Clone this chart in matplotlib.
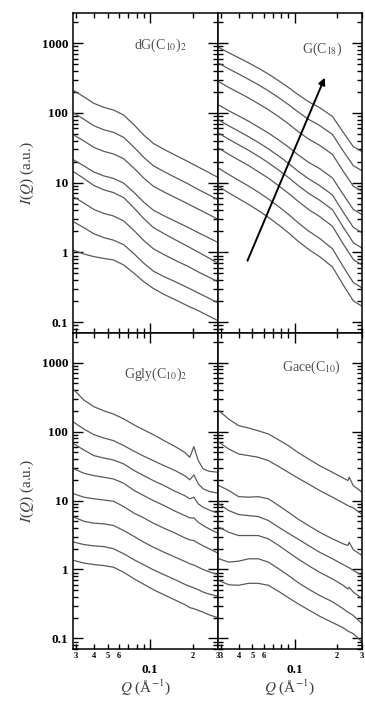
import matplotlib
matplotlib.use('Agg')
import matplotlib.pyplot as plt
from matplotlib.ticker import LogLocator, FixedLocator, FixedFormatter, NullFormatter

# -- Q grids (1/A)
q_top = [0.029, 0.034, 0.04, 0.047, 0.055, 0.065, 0.077, 0.09, 0.105, 0.125, 0.15, 0.185, 0.22, 0.26, 0.3]
q_gly = [0.029, 0.034, 0.04, 0.047, 0.055, 0.065, 0.077, 0.09, 0.105, 0.125, 0.15, 0.175, 0.19, 0.203,
         0.218, 0.236, 0.26, 0.3]
q_ace = [0.029, 0.034, 0.04, 0.047, 0.055, 0.065, 0.077, 0.09, 0.105, 0.125, 0.15, 0.185, 0.22, 0.238,
         0.243, 0.26, 0.3]

# -- dG(C10)2
dg1 = [207, 170, 137, 120, 110, 93, 67, 48, 36.5, 30, 24.8, 20, 16.6, 13.9, 11.9]
dg2 = [99, 81, 65.5, 57.3, 52.6, 44.5, 32, 23, 17.5, 14.4, 11.9, 9.6, 7.9, 6.65, 5.7]
dg3 = [48, 39.6, 32, 28.1, 25.8, 22, 16, 11.6, 8.9, 7.35, 6.12, 4.95, 4.13, 3.48, 2.99]
dg4 = [21, 17.4, 14.2, 12.5, 11.5, 9.8, 7.2, 5.25, 4.04, 3.35, 2.8, 2.28, 1.9, 1.61, 1.39]
dg5 = [14.2, 11.5, 9.1, 7.9, 7.2, 6.1, 4.3, 3.05, 2.28, 1.86, 1.52, 1.21, 1.0, 0.83, 0.70]
dg6 = [6.2, 5.1, 4.13, 3.62, 3.33, 2.82, 2.05, 1.48, 1.13, 0.93, 0.77, 0.63, 0.52, 0.44, 0.38]
dg7 = [2.72, 2.26, 1.85, 1.63, 1.50, 1.29, 0.95, 0.70, 0.54, 0.45, 0.38, 0.31, 0.26, 0.22, 0.19]
dg8 = [1.07, 0.95, 0.87, 0.82, 0.78, 0.66, 0.50, 0.38, 0.305, 0.25, 0.21, 0.17, 0.145, 0.122, 0.105]

# -- G(C18)
g1 = [867, 728, 617, 522, 439, 360, 288, 232, 184, 145, 119, 89, 53, 32.8, 27.7]
g2 = [512, 428, 361, 303, 254, 207, 165, 132, 104, 81, 66, 49, 28.6, 17.5, 14.8]
g3 = [279, 232, 195, 164, 136, 111, 88, 70, 54.5, 42.3, 34.3, 25.4, 14.7, 8.9, 7.5]
g4 = [129, 107.5, 90.4, 76, 63, 51.4, 40.8, 32.4, 25.3, 19.6, 15.9, 11.7, 6.83, 4.13, 3.48]
g5 = [78.9, 65.3, 54.6, 45.6, 37.8, 30.5, 24.0, 19.0, 14.7, 11.4, 9.1, 6.66, 3.81, 2.29, 1.91]
g6 = [50.8, 41.9, 34.9, 29.1, 24.0, 19.3, 15.1, 11.9, 9.2, 7.05, 5.6, 4.09, 2.32, 1.38, 1.15]
g7 = [31, 25.5, 21.1, 17.6, 14.4, 11.6, 9.0, 7.06, 5.45, 4.14, 3.27, 2.37, 1.33, 0.79, 0.66]
g8 = [16.0, 13.1, 10.8, 8.95, 7.33, 5.83, 4.52, 3.52, 2.69, 2.03, 1.59, 1.13, 0.63, 0.37, 0.31]
g9 = [8.73, 7.15, 5.9, 4.88, 4.0, 3.18, 2.47, 1.92, 1.46, 1.11, 0.87, 0.62, 0.344, 0.202, 0.169]

# -- Ggly(C10)2
gl1 = [402, 288, 230, 201, 180, 153, 125, 106, 90.6, 74.1, 60.7, 50.1, 42.5, 60.7, 38.0, 28.8, 26.6, 25.8]
gl2 = [136, 109, 90.6, 80.9, 74.1, 62.7, 51.9, 44.0, 38.0, 32.1, 27.2, 23.0, 20.0, 23.6, 17.5, 14.8, 13.6, 12.8]
gl3 = [66.2, 54.2, 44.9, 41.5, 38.8, 34.0, 27.2, 23.0, 19.5, 16.5, 13.6, 11.8, 10.6, 11.2, 8.95, 8.0, 7.3, 6.55]
gl4 = [28.8, 24.9, 23.0, 21.8, 20.6, 17.8, 14.0, 11.8, 10.0, 8.47, 7.0, 6.07, 5.61, 5.61, 4.85, 4.35, 3.88, 3.37]
gl5 = [12.5, 11.2, 10.6, 10.2, 9.77, 8.18, 6.55, 5.61, 4.70, 3.97, 3.37, 2.88, 2.69, 2.63, 2.41, 2.20, 2.0, 1.73]
gl6 = [5.73, 5.01, 4.70, 4.59, 4.35, 3.67, 3.01, 2.49, 2.11, 1.78, 1.51, 1.31, 1.21, 1.16, 1.08, 1.0, 0.925, 0.847]
gl7 = [2.49, 2.30, 2.20, 2.15, 2.0, 1.69, 1.38, 1.17, 0.99, 0.84, 0.71, 0.61, 0.57, 0.54, 0.51, 0.47, 0.44, 0.41]
gl8 = [1.35, 1.24, 1.18, 1.14, 1.08, 0.91, 0.73, 0.61, 0.51, 0.43, 0.36, 0.31, 0.28, 0.27, 0.255, 0.24, 0.22, 0.20]

# -- Gace(C10)
ga1 = [201, 152, 122, 113, 103, 92.5, 75.7, 62.7, 50.1, 40.2, 32.1, 25.7, 21.3, 19.5, 21.8, 16.5, 13.2]
ga2 = [70.0, 56.1, 47.4, 44.9, 42.5, 38.0, 31.1, 25.7, 21.3, 17.4, 14.0, 11.2, 9.25, 8.45, 8.28, 7.83, 6.27]
ga3 = [16.5, 14.0, 11.4, 11.2, 11.4, 10.6, 8.45, 6.78, 5.42, 4.34, 3.47, 2.78, 2.36, 2.23, 2.49, 1.93, 1.60]
ga4 = [8.93, 7.16, 6.27, 6.05, 5.86, 5.13, 4.10, 3.36, 2.78, 2.23, 1.78, 1.43, 1.18, 1.08, 1.06, 0.97, 0.82]
ga5 = [4.10, 3.47, 3.11, 3.11, 3.11, 2.78, 2.23, 1.78, 1.43, 1.14, 0.91, 0.73, 0.59, 0.52, 0.55, 0.47, 0.38]
ga6 = [1.43, 1.28, 1.32, 1.43, 1.43, 1.28, 1.02, 0.82, 0.65, 0.52, 0.42, 0.34, 0.27, 0.24, 0.235, 0.215, 0.163]
ga7 = [0.69, 0.60, 0.59, 0.63, 0.63, 0.59, 0.48, 0.39, 0.32, 0.26, 0.21, 0.17, 0.143, 0.128, 0.125, 0.117, 0.089]

# -- arrow in G(C18) panel (tail, head)
arrow_q = [0.0454, 0.166]
arrow_i = [0.70, 348]

minor_q = [0.03, 0.04, 0.05, 0.06, 0.07, 0.08, 0.09, 0.2, 0.3]
minor_lab = ['3', '4', '5', '6', '', '', '', '2', '3']

plt.rcParams['font.family'] = ['Liberation Serif', 'DejaVu Serif']
plt.rcParams['mathtext.fontset'] = 'stix'

fig = plt.figure(figsize=(3.65, 7.04), dpi=100)

panels = [
    ([0.200, 0.527, 0.397, 0.4545], q_top, [dg1, dg2, dg3, dg4, dg5, dg6, dg7, dg8], 'dG(C$_{10}$)$_2$', (0.60, 0.90)),
    ([0.597, 0.527, 0.395, 0.4545], q_top, [g1, g2, g3, g4, g5, g6, g7, g8, g9], 'G(C$_{18}$)', (0.72, 0.885)),
    ([0.200, 0.078, 0.397, 0.449], q_gly, [gl1, gl2, gl3, gl4, gl5, gl6, gl7, gl8], 'Ggly(C$_{10}$)$_2$', (0.57, 0.87)),
    ([0.597, 0.078, 0.395, 0.449], q_ace, [ga1, ga2, ga3, ga4, ga5, ga6, ga7], 'Gace(C$_{10}$)', (0.65, 0.89)),
]

axes = []
for k, (rect, q, curves, name, pos) in enumerate(panels):
    ax = fig.add_axes(rect)
    for c in curves:
        ax.plot(q, c, color='#5a5a5a', lw=0.9)
    ax.set_xscale('log')
    ax.set_yscale('log')
    ax.set_xlim(0.0285, 0.3)
    ax.set_ylim(0.07, 2700)
    ax.text(pos[0], pos[1], name, transform=ax.transAxes, ha='center', va='center',
            fontsize=10, color='#505050')

    # -- ticks
    ax.xaxis.set_major_locator(FixedLocator([0.1]))
    ax.xaxis.set_minor_locator(FixedLocator(minor_q))
    ax.yaxis.set_major_locator(LogLocator(base=10, numticks=10))
    ax.yaxis.set_minor_locator(LogLocator(base=10, subs=range(2, 10), numticks=10))
    ax.tick_params(which='both', direction='in', top=True, right=True, width=1.0, colors='black')
    ax.tick_params(which='major', length=7)
    ax.tick_params(which='minor', length=3.5)
    for s in ax.spines.values():
        s.set_linewidth(1.1)

    if k % 2 == 0:
        ax.set_yticks([0.1, 1, 10, 100, 1000])
        ax.set_yticklabels(['0.1', '1', '10', '100', '1000'], fontsize=9.5, fontweight='bold')
        ax.set_ylabel('$I$($Q$) (a.u.)', fontsize=11, color='#404040', labelpad=4)
    else:
        ax.yaxis.set_major_formatter(NullFormatter())
    ax.yaxis.set_minor_formatter(NullFormatter())
    ax.set_ylim(0.07, 2700)

    if k >= 2:
        ax.xaxis.set_major_formatter(FixedFormatter(['0.1']))
        ax.xaxis.set_minor_formatter(FixedFormatter(minor_lab))
        ax.tick_params(axis='x', which='major', labelsize=9.5, pad=11)
        ax.tick_params(axis='x', which='minor', labelsize=6, pad=2)
        for t in ax.get_xticklabels(which='both'):
            t.set_fontweight('bold')
        ax.set_xlabel('$Q$ (Å$^{-1}$)', fontsize=11, color='#404040', labelpad=1)
    else:
        ax.xaxis.set_major_formatter(NullFormatter())
        ax.xaxis.set_minor_formatter(NullFormatter())
    axes.append(ax)

axes[1].annotate('', xy=(arrow_q[1], arrow_i[1]), xytext=(arrow_q[0], arrow_i[0]),
                 arrowprops=dict(arrowstyle='-|>', color='black', lw=1.4, mutation_scale=10))

fig.savefig('out.png', dpi=100)
